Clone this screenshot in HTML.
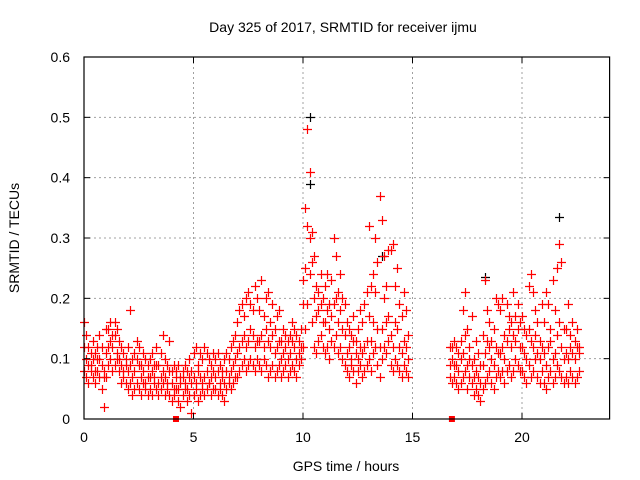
<!DOCTYPE html>
<html><head><meta charset="utf-8"><style>
body{margin:0;background:#fff}
svg{display:block;font-family:"Liberation Sans",sans-serif}
</style></head><body>
<svg id="chart" width="640" height="480">
<text x="343" y="32" text-anchor="middle" font-size="14">Day 325 of 2017, SRMTID for receiver ijmu</text>
<text x="346" y="471" text-anchor="middle" font-size="14">GPS time / hours</text>
<text transform="translate(19,238) rotate(-90)" text-anchor="middle" font-size="14">SRMTID / TECUs</text>
<g id="grid"></g><g id="marks"></g><g id="axes"></g>
</svg>
<script>
const xTicks=[0,5,10,15,20];
const yTicks=[0,0.1,0.2,0.3,0.4,0.5,0.6];
const yTickLabels=["0","0.1","0.2","0.3","0.4","0.5","0.6"];
const times=[0,0.1,0.2,0.3,0.4,0.5,0.6,0.7,0.8,0.9,1,1.1,1.2,1.3,1.4,1.5,1.6,1.7,1.8,1.9,2,2.1,2.2,2.3,2.4,2.5,2.6,2.7,2.8,2.9,3,3.1,3.2,3.3,3.4,3.5,3.6,3.7,3.8,3.9,4,4.1,4.2,4.3,4.4,4.5,4.6,4.7,4.8,4.9,5,5.1,5.2,5.3,5.4,5.5,5.6,5.7,5.8,5.9,6,6.1,6.2,6.3,6.4,6.5,6.6,6.7,6.8,6.9,7,7.1,7.2,7.3,7.4,7.5,7.6,7.7,7.8,7.9,8,8.1,8.2,8.3,8.4,8.5,8.6,8.7,8.8,8.9,9,9.1,9.2,9.3,9.4,9.5,9.6,9.7,9.8,9.9,10,10.1,10.2,10.3,10.4,10.5,10.6,10.7,10.8,10.9,11,11.1,11.2,11.3,11.4,11.5,11.6,11.7,11.8,11.9,12,12.1,12.2,12.3,12.4,12.5,12.6,12.7,12.8,12.9,13,13.1,13.2,13.3,13.4,13.5,13.6,13.7,13.8,13.9,14,14.1,14.2,14.3,14.4,14.5,14.6,14.7,14.8,
16.7,16.8,16.9,17,17.1,17.2,17.3,17.4,17.5,17.6,17.7,17.8,17.9,18,18.1,18.2,18.3,18.4,18.5,18.6,18.7,18.8,18.9,19,19.1,19.2,19.3,19.4,19.5,19.6,19.7,19.8,19.9,20,20.1,20.2,20.3,20.4,20.5,20.6,20.7,20.8,20.9,21,21.1,21.2,21.3,21.4,21.5,21.6,21.7,21.8,21.9,22,22.1,22.2,22.3,22.4,22.5,22.6];
const seriesLow=[.08,.07,.06,.09,.07,.06,.08,.07,.05,.08,.07,.09,.10,.08,.09,.10,.08,.06,.07,.06,.05,.06,.04,.05,.06,.05,.04,.06,.05,.04,.05,.04,.06,.05,.04,.05,.06,.04,.05,.04,.03,.04,.05,.03,.02,.04,.05,.03,.04,.01,.04,.05,.03,.04,.05,.04,.05,.06,.04,.05,.05,.04,.05,.04,.03,.05,.06,.05,.06,.07,.07,.08,.09,.10,.08,.09,.10,.09,.08,.10,.09,.08,.10,.09,.07,.08,.09,.07,.08,.09,.07,.08,.09,.07,.08,.09,.08,.07,.09,.10,.12,.15,.19,.24,.16,.12,.11,.13,.14,.12,.11,.12,.10,.13,.12,.14,.11,.12,.10,.09,.08,.07,.09,.08,.06,.08,.09,.07,.08,.09,.10,.08,.11,.12,.09,.07,.10,.12,.11,.13,.09,.08,.10,.09,.08,.07,.09,.08,.07,
.07,.06,.07,.06,.05,.06,.07,.08,.05,.07,.06,.04,.05,.04,.03,.05,.06,.07,.08,.06,.05,.07,.08,.07,.08,.06,.08,.09,.07,.08,.10,.09,.08,.08,.07,.06,.09,.07,.08,.10,.07,.06,.08,.06,.05,.07,.08,.06,.07,.09,.08,.07,.06,.07,.06,.08,.07,.06,.07,.08];
const seriesMid=[.12,.10,.09,.11,.10,.08,.12,.10,.09,.07,.11,.12,.13,.12,.14,.11,.10,.09,.08,.10,.08,.09,.07,.08,.10,.09,.07,.08,.06,.07,.07,.08,.07,.09,.06,.07,.08,.07,.06,.08,.06,.05,.07,.05,.06,.07,.06,.05,.07,.06,.07,.06,.08,.07,.06,.07,.08,.06,.07,.08,.07,.08,.06,.07,.06,.08,.07,.08,.09,.10,.11,.12,.13,.14,.12,.13,.15,.14,.12,.13,.13,.14,.12,.15,.13,.12,.14,.11,.12,.13,.10,.11,.12,.10,.11,.13,.12,.10,.11,.12,.19,.25,.32,.30,.26,.20,.17,.18,.19,.16,.16,.18,.15,.17,.19,.20,.16,.18,.15,.14,.11,.12,.10,.13,.11,.10,.12,.11,.12,.13,.17,.13,.16,.21,.15,.12,.15,.20,.16,.17,.14,.12,.16,.15,.12,.11,.13,.12,.10,
.09,.10,.09,.09,.08,.10,.11,.14,.09,.10,.09,.07,.08,.07,.06,.09,.11,.13,.12,.10,.09,.12,.11,.11,.12,.10,.13,.15,.12,.14,.13,.15,.12,.12,.11,.10,.15,.13,.12,.14,.11,.10,.12,.11,.09,.12,.13,.10,.11,.14,.16,.12,.10,.11,.10,.12,.11,.10,.12,.11];
const seriesHigh=[.16,.14,.12,.08,.13,.11,.10,.14,.12,.02,.15,.15,.16,.14,.16,.15,.13,.12,.11,.09,.12,.18,.10,.11,.13,.12,.09,.11,.10,.09,.10,.11,.09,.12,.09,.11,.14,.10,.09,.13,.08,.09,.08,.09,.07,.08,.09,.08,.10,.08,.11,.12,.09,.11,.10,.12,.11,.10,.09,.11,.10,.11,.09,.08,.10,.11,.10,.12,.13,.14,.16,.18,.19,.17,.20,.21,.19,.18,.22,.20,.18,.23,.17,.20,.21,.16,.19,.15,.17,.18,.13,.15,.14,.13,.14,.16,.15,.14,.13,.15,.23,.35,.48,.41,.31,.27,.22,.21,.24,.20,.22,.24,.19,.23,.30,.27,.21,.24,.20,.19,.16,.15,.14,.17,.13,.15,.18,.16,.19,.21,.32,.22,.24,.30,.26,.37,.33,.27,.22,.28,.28,.29,.22,.25,.19,.17,.21,.18,.14,
.12,.12,.13,.12,.11,.13,.18,.21,.15,.12,.17,.10,.13,.11,.09,.14,.23,.18,.16,.13,.15,.20,.19,.18,.20,.14,.19,.17,.16,.21,.17,.19,.16,.17,.15,.14,.22,.24,.21,.18,.16,.13,.19,.16,.21,.19,.15,.23,.18,.25,.29,.26,.15,.15,.19,.14,.16,.13,.15,.12];
const blackTimes=[10.3,10.3,21.7,18.3,13.6];
const blackValues=[.50,.39,.335,.235,.27];
const gapTimes=[4.2,16.8];

const L=84,R=609.6,T=57,B=419,XMAX=24,YMAX=0.6;
const xs=v=>L+(R-L)*v/XMAX;
const ys=v=>B-(B-T)*v/YMAX;
const NS="http://www.w3.org/2000/svg";
function mk(tag,attrs,parent){const e=document.createElementNS(NS,tag);for(const k in attrs)e.setAttribute(k,attrs[k]);parent.appendChild(e);return e;}
const grid=document.getElementById('grid'),marks=document.getElementById('marks'),axes=document.getElementById('axes');
xTicks.forEach((t,i)=>{
  const x=xs(t);
  if(t>0){const g=mk('line',{x1:x,y1:T,x2:x,y2:B,stroke:'#a0a0a0','stroke-dasharray':'2,3'},grid);
  
  }
  mk('line',{x1:x,y1:B,x2:x,y2:B-6,stroke:'#000'},axes);
  mk('line',{x1:x,y1:T,x2:x,y2:T+6,stroke:'#000'},axes);
  const lb=mk('text',{x:x,y:B+23,'text-anchor':'middle','font-size':14},axes);
  lb.textContent=String(t);
  
  
});
yTicks.forEach((t,i)=>{
  const y=ys(t);
  if(t>0&&t<YMAX){const g=mk('line',{x1:L,y1:y,x2:R,y2:y,stroke:'#a0a0a0','stroke-dasharray':'2,3'},grid);
  
  }
  mk('line',{x1:L,y1:y,x2:L+6,y2:y,stroke:'#000'},axes);
  mk('line',{x1:R,y1:y,x2:R-6,y2:y,stroke:'#000'},axes);
  const lb=mk('text',{x:L-14,y:y+5,'text-anchor':'end','font-size':14},axes);
  lb.textContent=yTickLabels[i];
  
  
});
const frame=mk('rect',{x:L,y:T,width:R-L,height:B-T,fill:'none',stroke:'#000','stroke-width':1.2},axes);


function cross(t,v,color,name){
  const x=Math.round(xs(t))+0.5,y=Math.round(ys(v))+0.5;
  const p=mk('path',{d:`M${x-4.5},${y}H${x+4.5}M${x},${y-4.5}V${y+4.5}`,stroke:color,'stroke-width':1.2,fill:'none'},marks);
  
  
}
blackTimes.forEach((t,i)=>cross(t,blackValues[i],'#000','black-point'));
[seriesLow,seriesMid,seriesHigh].forEach(s=>{
  times.forEach((t,i)=>cross(t,s[i],'#ff0000','srmtid-point'));
});
gapTimes.forEach(t=>{
  const r=mk('rect',{x:xs(t)-3,y:B-3,width:6,height:6,fill:'#ff0000'},marks);
  
  
});
</script>
</body></html>
